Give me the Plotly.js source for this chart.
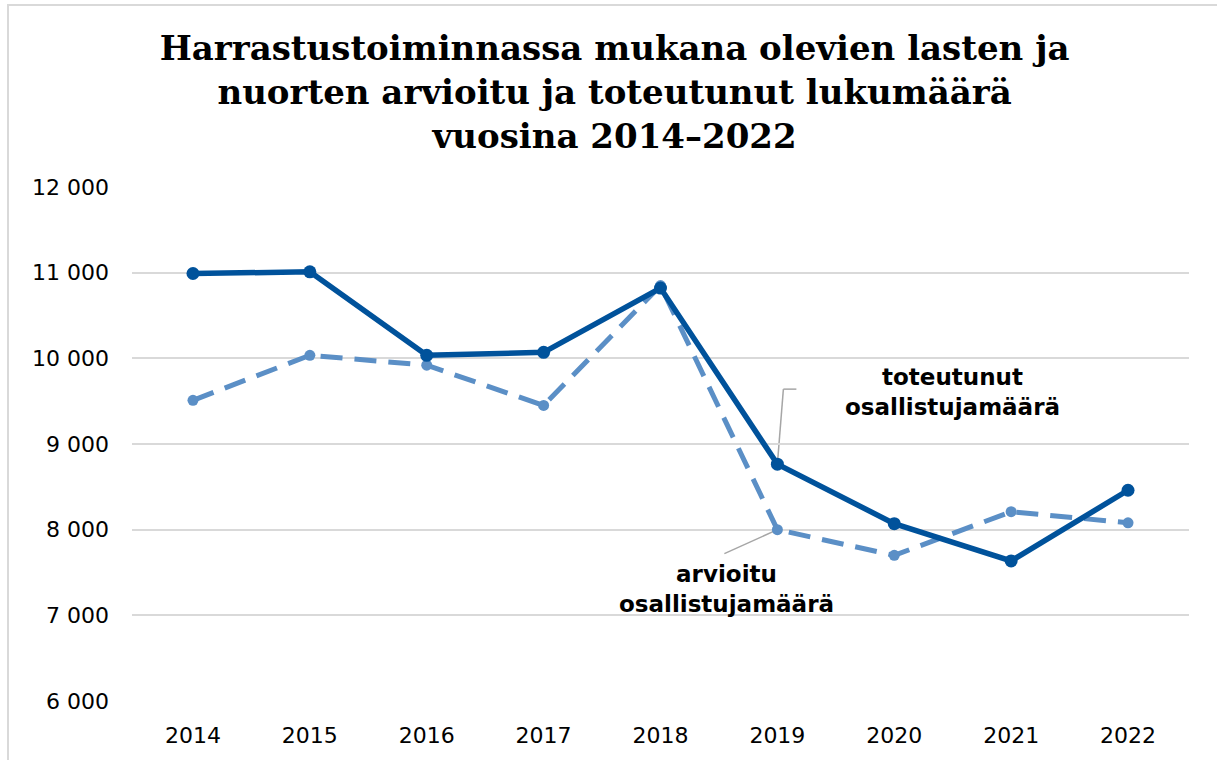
<!DOCTYPE html>
<html>
<head>
<meta charset="utf-8">
<script src="https://cdn.plot.ly/plotly-3.0.1.min.js"></script>
<style>
  html, body { margin: 0; padding: 0; background: #fff; overflow: hidden; width: 1217px; height: 760px; }
  #chart { width: 1217px; height: 760px; position: absolute; left: 0; top: 0; }
  #frame { position: absolute; left: 7px; top: 4px; width: 1210px; height: 756px;
           border-left: 2px solid #d9d9d9; border-top: 2px solid #d9d9d9; pointer-events: none;
           box-sizing: border-box; }
</style>
</head>
<body>
<div id="chart"></div>
<div id="frame"></div>
<script>
const years = ['2014','2015','2016','2017','2018','2019','2020','2021','2022'];
const toteutunut = [10990, 11010, 10035, 10070, 10820, 8765, 8070, 7635, 8460];
const arvioitu   = [9510, 10035, 9920, 9450, 10850, 8000, 7700, 8210, 8080];
const yTicks = [6000, 7000, 8000, 9000, 10000, 11000, 12000];
const yTickText = ['6 000', '7 000', '8 000', '9 000', '10 000', '11 000', '12 000'];

const darkBlue = '#00529B';
const lightBlue = '#5B8FC6';

const traces = [
  {
    x: years, y: arvioitu, type: 'scatter', mode: 'lines+markers',
    name: 'arvioitu osallistujamäärä',
    line: { color: lightBlue, width: 5, dash: '22px,12px' },
    marker: { color: lightBlue, size: 11 }
  },
  {
    x: years, y: toteutunut, type: 'scatter', mode: 'lines+markers',
    name: 'toteutunut osallistujamäärä',
    line: { color: darkBlue, width: 5.5 },
    marker: { color: darkBlue, size: 13 }
  }
];

const layout = {
  width: 1217, height: 760,
  margin: { l: 132, r: 28, t: 187, b: 59 },
  paper_bgcolor: '#ffffff', plot_bgcolor: '#ffffff',
  showlegend: false,
  title: {
    text: 'Harrastustoiminnassa mukana olevien lasten ja<br>nuorten arvioitu ja toteutunut lukumäärä<br>vuosina 2014–2022',
    font: { family: 'DejaVu Serif', size: 34, color: '#000', weight: 'bold' },
    x: 0.505, xanchor: 'center', xref: 'container',
    y: 0.921, yanchor: 'top', yref: 'container'
  },
  xaxis: {
    type: 'category', tickvals: years, ticktext: years,
    showgrid: false, showline: false, zeroline: false, ticks: '',
    ticklabelstandoff: 19,
    tickfont: { family: 'DejaVu Sans', size: 22, color: '#000' }
  },
  yaxis: {
    range: [6000, 12000], tickvals: yTicks, ticktext: yTickText,
    showgrid: true, gridcolor: '#d9d9d9', gridwidth: 2,
    showline: false, zeroline: false, ticks: '',
    ticklabelstandoff: 22,
    tickfont: { family: 'DejaVu Sans', size: 22, color: '#000' }
  },
  shapes: [
    { type: 'line', layer: 'below', xref: 'x', yref: 'y',
      xsizemode: 'pixel', ysizemode: 'pixel', xanchor: 5, yanchor: toteutunut[5],
      x0: 0, y0: 0, x1: 6, y1: 75, line: { color: '#a6a6a6', width: 1.5 } },
    { type: 'line', layer: 'below', xref: 'x', yref: 'y',
      xsizemode: 'pixel', ysizemode: 'pixel', xanchor: 5, yanchor: toteutunut[5],
      x0: 6, y0: 75, x1: 19, y1: 75, line: { color: '#a6a6a6', width: 1.5 } },
    { type: 'line', layer: 'below', xref: 'x', yref: 'y',
      xsizemode: 'pixel', ysizemode: 'pixel', xanchor: 5, yanchor: arvioitu[5],
      x0: 0, y0: 0, x1: -53, y1: -24, line: { color: '#a6a6a6', width: 1.5 } }
  ],
  annotations: [
    { text: 'toteutunut<br>osallistujamäärä', xref: 'paper', yref: 'paper',
      x: 0.776, y: 0.601, xanchor: 'center', yanchor: 'middle', showarrow: false,
      font: { family: 'DejaVu Sans', size: 23, color: '#000', weight: 'bold' } },
    { text: 'arvioitu<br>osallistujamäärä', xref: 'paper', yref: 'paper',
      x: 0.562, y: 0.218, xanchor: 'center', yanchor: 'middle', showarrow: false,
      font: { family: 'DejaVu Sans', size: 23, color: '#000', weight: 'bold' } }
  ]
};

Plotly.newPlot('chart', traces, layout, { displayModeBar: false, staticPlot: true });
</script>
</body>
</html>
